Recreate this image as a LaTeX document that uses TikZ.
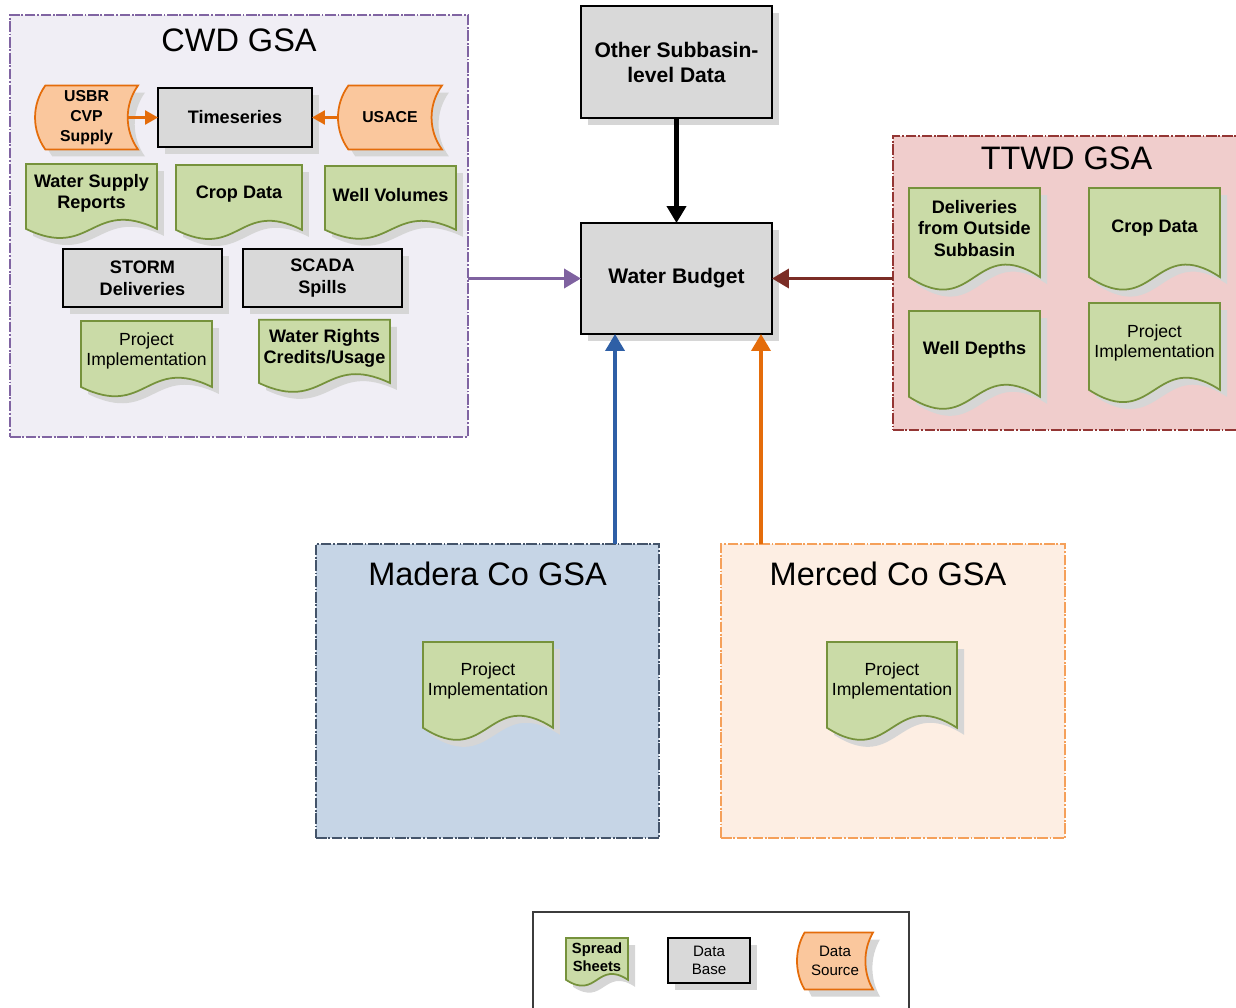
\documentclass[tikz,border=0pt]{standalone}
\usepackage{fontspec}
\setmainfont{Liberation Sans}
\usepackage{tikz}
\usetikzlibrary{arrows.meta, positioning, shadows}
\definecolor{CwdFill}{HTML}{F0EEF5}
\definecolor{CwdLine}{HTML}{8064A2}
\definecolor{TtwdFill}{HTML}{F0CDCC}
\definecolor{TtwdLine}{HTML}{943634}
\definecolor{MaderaFill}{HTML}{C6D5E6}
\definecolor{MaderaLine}{HTML}{44546A}
\definecolor{MercedFill}{HTML}{FDEEE3}
\definecolor{MercedLine}{HTML}{F5A05A}
\definecolor{SheetFill}{HTML}{CADBA7}
\definecolor{SheetLine}{HTML}{76923C}
\definecolor{SourceFill}{HTML}{FAC79D}
\definecolor{SourceLine}{HTML}{E46C0A}
\definecolor{BaseFill}{HTML}{D9D9D9}
\definecolor{ShadowGray}{HTML}{D6D6D6}
\definecolor{LegendLine}{HTML}{3C3C3C}
\definecolor{FlowPurple}{HTML}{7F62A0}
\definecolor{FlowBrown}{HTML}{7B2D26}
\definecolor{FlowBlue}{HTML}{2E5FA6}
\definecolor{FlowOrange}{HTML}{E46C0A}

% spreadsheet shape: rectangle with a wavy bottom edge
\newdimen\docl \newdimen\docr \newdimen\doct \newdimen\docs
\newdimen\docm \newdimen\docu \newdimen\docd
\makeatletter
\pgfdeclareshape{sheetdoc}{
  \inheritsavedanchors[from=rectangle]
  \inheritanchorborder[from=rectangle]
  \inheritanchor[from=rectangle]{center}
  \inheritanchor[from=rectangle]{north}
  \inheritanchor[from=rectangle]{south}
  \inheritanchor[from=rectangle]{east}
  \inheritanchor[from=rectangle]{west}
  \inheritanchor[from=rectangle]{north east}
  \inheritanchor[from=rectangle]{north west}
  \inheritanchor[from=rectangle]{south east}
  \inheritanchor[from=rectangle]{south west}
  \backgroundpath{
    \southwest \docl=\pgf@x \docs=\pgf@y
    \northeast \docr=\pgf@x \doct=\pgf@y
    \pgf@yc=\doct \advance\pgf@yc by -\docs
    \advance\docs by -0.1\pgf@yc
    \docu=\docs \advance\docu by 0.535\pgf@yc
    \docd=\docs \advance\docd by -0.535\pgf@yc
    \docm=\docl \advance\docm by \docr \divide\docm by 2
    \pgfpathmoveto{\pgfqpoint{\docl}{\docs}}
    \pgfpathlineto{\pgfqpoint{\docl}{\doct}}
    \pgfpathlineto{\pgfqpoint{\docr}{\doct}}
    \pgfpathlineto{\pgfqpoint{\docr}{\docs}}
    \pgfpathcurveto{\pgfqpoint{\docm}{\docu}}{\pgfqpoint{\docm}{\docd}}{\pgfqpoint{\docl}{\docs}}
    \pgfpathclose
  }
}
% data source shape: bulging left side, hollow right side
\newdimen\srcl \newdimen\srcr \newdimen\srcx \newdimen\srct
\newdimen\srcb \newdimen\srcin \newdimen\srcout \newdimen\srcup \newdimen\srclo
\pgfdeclareshape{datasource}{
  \inheritsavedanchors[from=rectangle]
  \inheritanchorborder[from=rectangle]
  \inheritanchor[from=rectangle]{center}
  \inheritanchor[from=rectangle]{north}
  \inheritanchor[from=rectangle]{south}
  \inheritanchor[from=rectangle]{east}
  \inheritanchor[from=rectangle]{west}
  \inheritanchor[from=rectangle]{north east}
  \inheritanchor[from=rectangle]{north west}
  \inheritanchor[from=rectangle]{south east}
  \inheritanchor[from=rectangle]{south west}
  \backgroundpath{
    \southwest \srcl=\pgf@x \srcb=\pgf@y
    \northeast \srcr=\pgf@x \srct=\pgf@y
    \pgf@xc=\srcr \advance\pgf@xc by -\srcl \pgf@xc=0.1\pgf@xc
    \pgf@yc=\srct \advance\pgf@yc by -\srcb \pgf@yc=0.3\pgf@yc
    \srcx=\srcl \advance\srcx by \pgf@xc
    \srcin=\srcr \advance\srcin by -1.333\pgf@xc
    \srcout=\srcl \advance\srcout by -0.333\pgf@xc
    \srcup=\srct \advance\srcup by -\pgf@yc
    \srclo=\srcb \advance\srclo by \pgf@yc
    \pgfpathmoveto{\pgfqpoint{\srcx}{\srct}}
    \pgfpathlineto{\pgfqpoint{\srcr}{\srct}}
    \pgfpathcurveto{\pgfqpoint{\srcin}{\srcup}}{\pgfqpoint{\srcin}{\srclo}}{\pgfqpoint{\srcr}{\srcb}}
    \pgfpathlineto{\pgfqpoint{\srcx}{\srcb}}
    \pgfpathcurveto{\pgfqpoint{\srcout}{\srclo}}{\pgfqpoint{\srcout}{\srcup}}{\pgfqpoint{\srcx}{\srct}}
    \pgfpathclose
  }
}
\makeatother

\begin{document}
\begin{tikzpicture}[x=0.02cm, y=-0.02cm, >={Triangle[length=0.34cm, width=0.38cm]}]
        \tikzstyle{softshadow} = [drop shadow={shadow xshift=0.14cm, shadow yshift=-0.14cm, fill=ShadowGray, opacity=1}]
        \tikzstyle{group}  = [rectangle, line width=0.8pt, dash pattern=on 6pt off 1pt on 1pt off 1pt, outer sep=0pt]
        \tikzstyle{gtitle} = [inner sep=0pt, font=\fontsize{18.5}{22}\selectfont]
        \tikzstyle{dbase}  = [rectangle, draw=black, fill=BaseFill, line width=1.3pt, outer sep=0pt, align=center, softshadow, font=\fontsize{10.3}{12.3}\selectfont\bfseries]
        \tikzstyle{sheet}  = [sheetdoc, draw=SheetLine, fill=SheetFill, line width=1pt, outer sep=0pt, inner sep=1pt, align=center, softshadow, font=\fontsize{10.3}{12.3}\selectfont\bfseries]
        \tikzstyle{source} = [datasource, draw=SourceLine, fill=SourceFill, line width=1pt, outer sep=0pt, inner sep=1pt, align=center, softshadow, font=\fontsize{9}{11.2}\selectfont\bfseries]
        \tikzstyle{plain}  = [font=\fontsize{10}{11.4}\selectfont]
        \tikzstyle{big}    = [font=\fontsize{12}{14.2}\selectfont\bfseries]
        \tikzstyle{flow}   = [->, line width=2.1pt]
        \tikzstyle{feed}   = [-{Triangle[length=0.26cm, width=0.28cm]}, line width=1.5pt, FlowOrange]

        \useasboundingbox (0,0) rectangle (1236,1007);

        % Agency groups
        \node[group, draw=CwdLine, fill=CwdFill, minimum width=9.16cm, minimum height=8.44cm] (cwd) at (239,226) {};
        \node[gtitle, below=0.27cm of cwd.north] (cwdtitle) {CWD GSA};
        \node[group, draw=TtwdLine, fill=TtwdFill, minimum width=6.94cm, minimum height=5.88cm] (ttwd) at (1066.5,283) {};
        \node[gtitle, below=0.21cm of ttwd.north] (ttwdtitle) {TTWD GSA};
        \node[group, draw=MaderaLine, fill=MaderaFill, minimum width=6.86cm, minimum height=5.88cm] (madera) at (487.5,691) {};
        \node[gtitle, below=0.35cm of madera.north] (maderatitle) {Madera Co GSA};
        \node[group, draw=MercedLine, fill=MercedFill, minimum width=6.88cm, minimum height=5.88cm] (merced) at (893,691) {};
        \node[gtitle, below=0.35cm of merced.north, xshift=-0.1cm] (mercedtitle) {Merced Co GSA};

        % CWD data
        \node[dbase, minimum width=3.08cm, minimum height=1.18cm] (ts) at (235,117.5) {Timeseries};
        \node[source, left=0.4cm of ts, minimum width=2.06cm, minimum height=1.28cm] (usbr) {USBR\\CVP\\Supply};
        \node[source, right=0.52cm of ts, minimum width=2.08cm, minimum height=1.28cm] (usace) {USACE};
        \node[sheet, minimum width=2.62cm, minimum height=1.18cm] (supply) at (91.5,193.5) {Water Supply\\Reports};
        \node[sheet, minimum width=2.52cm, minimum height=1.18cm] (cropcwd) at (239,194.5) {Crop Data};
        \node[sheet, minimum width=2.62cm, minimum height=1.16cm] (wellvol) at (390.5,195) {Well Volumes};
        \node[dbase, minimum width=3.18cm, minimum height=1.16cm] (storm) at (142.5,278) {STORM\\Deliveries};
        \node[dbase, minimum width=3.18cm, minimum height=1.16cm] (scada) at (322.5,278) {SCADA\\Spills};
        \node[sheet, plain, minimum width=2.62cm, minimum height=1.2cm] (projcwd) at (146.5,351) {Project\\Implementation};
        \node[sheet, minimum width=2.62cm, minimum height=1.15cm] (rights) at (324.5,348.5) {Water Rights\\Credits/Usage};

        % TTWD data
        \node[sheet, minimum width=2.62cm, minimum height=1.62cm] (deliv) at (974.5,228.5) {Deliveries\\from Outside\\Subbasin};
        \node[sheet, minimum width=2.62cm, minimum height=1.62cm] (cropttwd) at (1154.5,228.5) {Crop Data};
        \node[sheet, minimum width=2.62cm, minimum height=1.56cm] (depths) at (974.5,350) {Well Depths};
        \node[sheet, plain, minimum width=2.62cm, minimum height=1.58cm] (projttwd) at (1154.5,342.5) {Project\\Implementation};

        % County data
        \node[sheet, plain, minimum width=2.6cm, minimum height=1.56cm] (projmad) at (488,681) {Project\\Implementation};
        \node[sheet, plain, minimum width=2.6cm, minimum height=1.56cm] (projmer) at (892,681) {Project\\Implementation};

        % Budget
        \node[dbase, big, minimum width=3.82cm, minimum height=2.24cm] (other) at (676.5,62) {Other Subbasin-\\level Data};
        \node[dbase, big, minimum width=3.82cm, minimum height=2.22cm] (wb) at (676.5,278.5) {Water Budget};

        % Legend
        \node[rectangle, draw=LegendLine, line width=0.8pt, minimum width=7.52cm, minimum height=2.36cm] (legend) at (721,971) {};
        \node[sheet, minimum width=1.24cm, minimum height=0.76cm, font=\fontsize{8.4}{10.5}\selectfont\bfseries] (lgsheet) at (597,957) {Spread\\Sheets};
        \node[dbase, line width=0.8pt, minimum width=1.64cm, minimum height=0.9cm, font=\fontsize{8.6}{10.5}\selectfont] (lgbase) at (709,960.5) {Data\\Base};
        \node[source, minimum width=1.52cm, minimum height=1.14cm, font=\fontsize{8.6}{10.5}\selectfont] (lgsource) at (835,961) {Data\\Source};

        % Arrows
        \draw[feed] ([xshift=-0.2cm]usbr.east) -- (ts);
        \draw[feed] (usace) -- (ts);
        \draw[->, line width=2.3pt] (other) -- (wb);
        \draw[flow, FlowPurple] (cwd.east |- wb) -- (wb);
        \draw[flow, FlowBrown] (ttwd.west |- wb) -- (wb);
        \coordinate (wbblue) at ([xshift=-1.23cm]wb.south);
        \coordinate (wborange) at ([xshift=1.69cm]wb.south);
        \draw[flow, FlowBlue] (wbblue |- madera.north) -- (wbblue);
        \draw[flow, FlowOrange] (wborange |- merced.north) -- (wborange);
    \end{tikzpicture}
\end{document}
